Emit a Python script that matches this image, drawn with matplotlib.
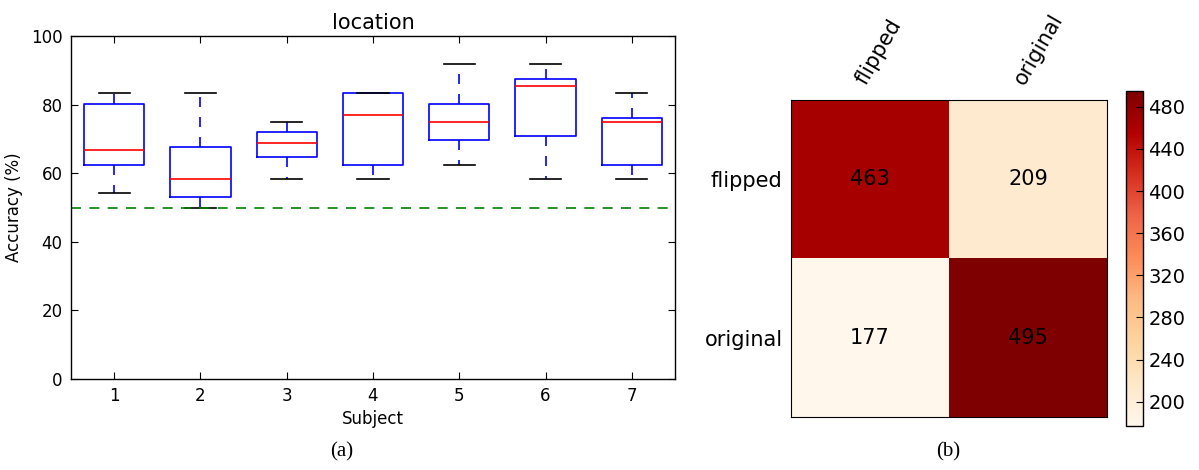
import numpy as np
import matplotlib
matplotlib.use('Agg')
import matplotlib.pyplot as plt

# per-subject accuracy summary (%), location task
subjects = [1, 2, 3, 4, 5, 6, 7]
whis_lo = [54.2, 50.0, 58.3, 58.3, 62.5, 58.3, 58.3]
q1 = [62.5, 53.1, 64.6, 62.5, 69.8, 70.8, 62.5]
medians = [66.7, 58.3, 68.8, 77.1, 75.0, 85.4, 75.0]
q3 = [80.2, 67.7, 71.9, 83.3, 80.2, 87.5, 76.0]
whis_hi = [83.3, 83.3, 75.0, 83.3, 91.7, 91.7, 83.3]
chance = 50

# confusion matrix
classes = ['flipped', 'original']
conf = np.array([[463, 209],
                 [177, 495]])
cbar_ticks = [200, 240, 280, 320, 360, 400, 440, 480]

W, H = 1199, 470
fig = plt.figure(figsize=(W / 100.0, H / 100.0), dpi=100)
fig.patch.set_facecolor('white')

# ---- (a) boxplot ----
ax = fig.add_axes([71.0 / W, 1 - 379.0 / H, 604.0 / W, 343.0 / H])
stats = []
for i in range(len(subjects)):
    stats.append({'whislo': whis_lo[i], 'q1': q1[i], 'med': medians[i],
                  'q3': q3[i], 'whishi': whis_hi[i], 'fliers': []})
ax.bxp(stats, positions=subjects, widths=0.7, capwidths=0.36, showfliers=False,
       boxprops=dict(color='b', linewidth=1.2),
       whiskerprops=dict(color='b', linestyle=(0, (6, 6)), linewidth=1.2),
       capprops=dict(color='k', linewidth=1.2),
       medianprops=dict(color='r', linewidth=1.2))
ax.axhline(chance, color=(0, 0.5, 0), linestyle='--', linewidth=1.2, dashes=(6, 5))
ax.set_xlim(0.5, 7.5)
ax.set_ylim(0, 100)
ax.set_xticks(subjects)
ax.set_xticklabels([str(s) for s in subjects])
ax.set_yticks(range(0, 101, 20))
ax.tick_params(direction='in', length=5, top=True, right=True, labelsize=12, pad=6)
ax.set_title('location', fontsize=15, pad=5)
ax.set_xlabel('Subject', fontsize=12, labelpad=3)
ax.set_ylabel('Accuracy (%)', fontsize=12, labelpad=6)
for sp in ax.spines.values():
    sp.set_linewidth(1.0)

# ---- (b) confusion matrix ----
ax2 = fig.add_axes([791.0 / W, 1 - 417.0 / H, 316.0 / W, 317.0 / H])
im = ax2.imshow(conf, cmap='OrRd', interpolation='nearest', aspect='auto',
                vmin=conf.min(), vmax=conf.max())
for r in range(conf.shape[0]):
    for c in range(conf.shape[1]):
        ax2.text(c, r, str(conf[r, c]), ha='center', va='center', fontsize=15, color='k')
ax2.xaxis.tick_top()
ax2.set_xticks(range(len(classes)))
ax2.set_xticklabels(classes, rotation=60, ha='left', va='bottom',
                    rotation_mode='anchor', fontsize=15)
ax2.set_yticks(range(len(classes)))
ax2.set_yticklabels(classes, fontsize=15)
ax2.tick_params(axis='y', length=0, pad=6)
ax2.tick_params(axis='x', length=0, pad=9)

cax = fig.add_axes([1126.0 / W, 1 - 426.0 / H, 17.0 / W, 335.0 / H])
cb = fig.colorbar(im, cax=cax, ticks=cbar_ticks)
cb.ax.tick_params(direction='in', length=5, labelsize=14, pad=4)
cb.outline.set_linewidth(1.0)

fig.text(342.0 / W, 1 - 452.0 / H, '(a)', family='Liberation Serif', fontsize=15,
         ha='center', va='center')
fig.text(948.0 / W, 1 - 452.0 / H, '(b)', family='Liberation Serif', fontsize=15,
         ha='center', va='center')

fig.savefig('out.png', dpi=100, facecolor='white')
